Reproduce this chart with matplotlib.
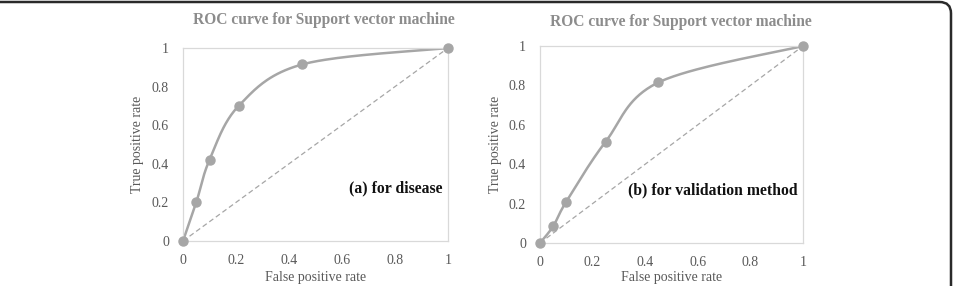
import numpy as np
import matplotlib.pyplot as plt
from matplotlib.patches import FancyBboxPatch

# ROC points
fpr_a = [0, 0.05, 0.10, 0.21, 0.45, 1.0]
tpr_a = [0, 0.20, 0.42, 0.70, 0.915, 1.0]
fpr_b = [0, 0.05, 0.10, 0.25, 0.45, 1.0]
tpr_b = [0, 0.085, 0.21, 0.515, 0.815, 1.0]
ticks_x = [0, 0.2, 0.4, 0.6, 0.8, 1]
ticks_y = [0, 0.2, 0.4, 0.6, 0.8, 1]
tick_labels = ['0', '0.2', '0.4', '0.6', '0.8', '1']
title = 'ROC curve for Support vector machine'
notes = ['(a) for disease', '(b) for validation method']

plt.rcParams['font.family'] = ['Liberation Serif', 'DejaVu Serif']

line_col = '#a6a6a6'
text_col = '#595959'


def smooth(x, y, n=40):
    # Excel-like smoothed line: cubic Bezier with Catmull-Rom control points
    x = np.asarray(x, float)
    y = np.asarray(y, float)
    px = np.concatenate([[x[0]], x, [x[-1]]])
    py = np.concatenate([[y[0]], y, [y[-1]]])
    xs, ys = [], []
    t = np.linspace(0, 1, n)
    for i in range(1, len(px) - 2):
        p0 = np.array([px[i], py[i]])
        p3 = np.array([px[i + 1], py[i + 1]])
        c1 = p0 + (np.array([px[i + 1], py[i + 1]]) - np.array([px[i - 1], py[i - 1]])) / 6
        c2 = p3 - (np.array([px[i + 2], py[i + 2]]) - np.array([px[i], py[i]])) / 6
        b = ((1 - t) ** 3)[:, None] * p0 + (3 * (1 - t) ** 2 * t)[:, None] * c1 \
            + (3 * (1 - t) * t ** 2)[:, None] * c2 + (t ** 3)[:, None] * p3
        xs.extend(b[:, 0])
        ys.extend(b[:, 1])
    return xs, ys


fig = plt.figure(figsize=(9.55, 2.86), dpi=100)

# rounded frame (only top and right edges show)
frame = FancyBboxPatch((-0.05, -0.2), 0.05 + 951 / 955, 0.2 + 1 - 2 / 286,
                       boxstyle='round,pad=0,rounding_size=0.012',
                       transform=fig.transFigure, fill=False,
                       edgecolor='#2a2a2a', linewidth=1.8, mutation_aspect=3.3)
fig.patches.append(frame)

W, H = 955, 286
boxes = [(183, 48, 448, 241), (540, 46, 803, 243)]
data = [(fpr_a, tpr_a), (fpr_b, tpr_b)]
title_y = [20, 22]
title_dx = [8, 9]
note_pos = [(0.98, 0.27, 'right'), (0.335, 0.265, 'left')]
ylabel_x = [138, 495]
xlabel_y = [277, 278]

for k in range(2):
    l, t, r, b = boxes[k]
    ax = fig.add_axes([l / W, 1 - b / H, (r - l) / W, (b - t) / H])
    fx, ty = data[k]
    ax.plot([0, 1], [0, 1], color=line_col, lw=0.9, ls=(0, (4, 2.5)), zorder=1)
    sx, sy = smooth(fx, ty)
    ax.plot(sx, sy, color=line_col, lw=1.8, zorder=2, solid_capstyle='round')
    ax.plot(fx, ty, 'o', color=line_col, ms=6.5, zorder=3, clip_on=False)
    ax.set_xlim(0, 1)
    ax.set_ylim(0, 1)
    ax.set_xticks(ticks_x)
    ax.set_xticklabels(tick_labels)
    ax.set_yticks(ticks_y)
    ax.set_yticklabels(tick_labels)
    ax.tick_params(axis='both', length=0, labelsize=10, colors=text_col)
    ax.tick_params(axis='y', pad=10)
    ax.tick_params(axis='x', pad=9)
    for s in ax.spines.values():
        s.set_color('#d9d9d9')
        s.set_linewidth(0.9)
    fig.text((l + r) / 2 / W, 1 - xlabel_y[k] / H, 'False positive rate',
             ha='center', va='center', fontsize=10, color=text_col)
    fig.text(ylabel_x[k] / W, 1 - (t + b) / 2 / H, 'True positive rate', rotation=90,
             ha='center', va='center', fontsize=10, color=text_col)
    fig.text(((l + r) / 2 + title_dx[k]) / W, 1 - title_y[k] / H, title, ha='center',
             va='center', fontsize=11.2, fontweight='bold', color='#8c8c8c')
    nx, ny, ha = note_pos[k]
    ax.text(nx, ny, notes[k], ha=ha, va='center', fontsize=11.3, fontweight='bold',
            color='#111111')

fig.savefig('out.png', dpi=100)
